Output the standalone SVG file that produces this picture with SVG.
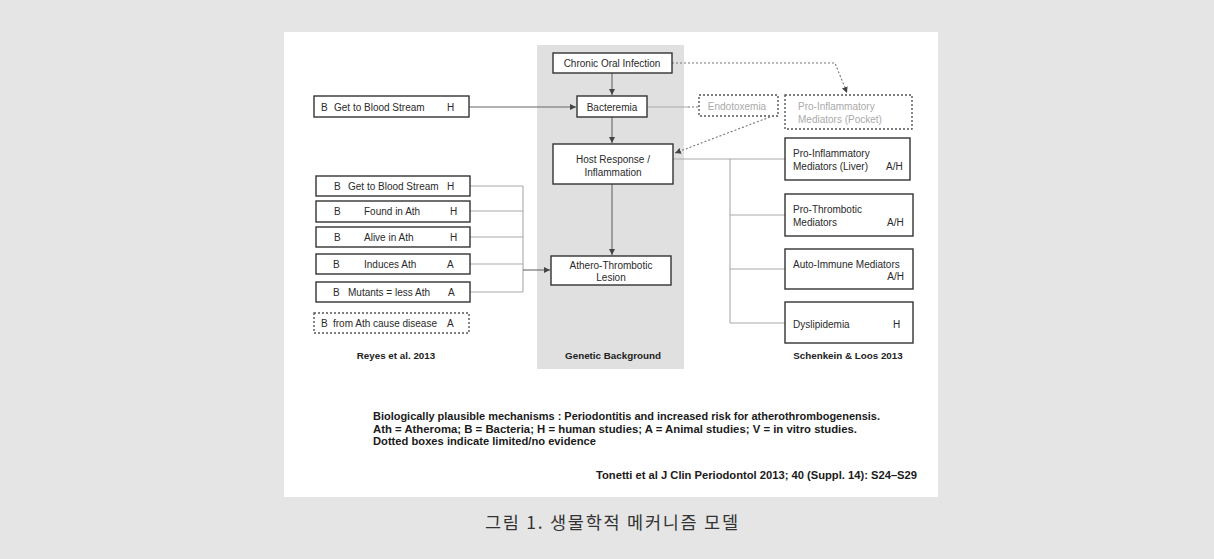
<svg xmlns="http://www.w3.org/2000/svg" width="1214" height="559" viewBox="0 0 1214 559">
<defs>
<style>
.box{fill:#fff;stroke:#333;stroke-width:1.4}
.dbox{fill:#fff;stroke:#555;stroke-width:1.4;stroke-dasharray:2 2}
.t{font-family:"Liberation Sans",Arial,sans-serif;font-size:10px;fill:#2a2a2a}
.tl{font-family:"Liberation Sans",Arial,sans-serif;font-size:10px;fill:#aaa}
.b{font-family:"Liberation Sans",Arial,sans-serif;font-size:9.8px;font-weight:bold;fill:#222}
.n{font-family:"Liberation Sans",Arial,sans-serif;font-size:11.5px;font-weight:bold;fill:#1a1a1a}
.c{fill:none;stroke:#666;stroke-width:1.1}
.cl{fill:none;stroke:#aaa;stroke-width:1.1}
.cd{fill:none;stroke:#777;stroke-width:1.1;stroke-dasharray:2 2}
</style>
<marker id="ah" viewBox="0 0 10 10" refX="10" refY="5" markerWidth="6" markerHeight="6" orient="auto" markerUnits="userSpaceOnUse">
<path d="M0,0 L10,5 L0,10 z" fill="#444"/>
</marker>
</defs>
<rect x="0" y="0" width="1214" height="559" fill="#e5e5e5"/>
<rect x="284" y="32" width="654" height="465" fill="#fff"/>
<rect id="genetic-column" x="537" y="45" width="147" height="324" fill="#e0e0e0"/>

<g id="connectors">
<path class="c" d="M612,73 V95" marker-end="url(#ah)"/>
<path class="c" d="M612,117 V143" marker-end="url(#ah)"/>
<path class="c" d="M612,184 V255" marker-end="url(#ah)"/>
<path class="c" d="M469,107 H576" marker-end="url(#ah)"/>
<path class="cl" d="M647,107 H688"/>
<path class="cd" d="M688,107 H698"/>
<path class="cd" d="M672,63 H835 L847,93" marker-end="url(#ah)"/>
<path class="cd" d="M770,117 L675,153" marker-end="url(#ah)"/>
<path class="cl" d="M470,186 H523 M470,211 H523 M470,237 H523 M470,264 H523 M470,292 H523 M523,186 V292"/>
<path class="c" d="M523,270 H550" marker-end="url(#ah)"/>
<path class="cl" d="M673,159 H785 M730,159 V323 M730,215 H785 M730,269 H785 M730,323 H785"/>
</g>

<g id="chronic-oral-infection">
<rect class="box" x="553" y="53" width="119" height="20"/>
<text class="t" x="612" y="67" text-anchor="middle">Chronic Oral Infection</text>
</g>
<g id="bacteremia">
<rect class="box" x="577" y="96" width="70" height="21"/>
<text class="t" x="612" y="110.5" text-anchor="middle">Bacteremia</text>
</g>
<g id="host-response">
<rect class="box" x="553" y="144" width="120" height="40"/>
<text class="t" x="613" y="163" text-anchor="middle">Host Response /</text>
<text class="t" x="613" y="175.5" text-anchor="middle">Inflammation</text>
</g>
<g id="athero-thrombotic-lesion">
<rect class="box" x="551" y="256" width="120" height="29"/>
<text class="t" x="611" y="269" text-anchor="middle">Athero-Thrombotic</text>
<text class="t" x="611" y="280.5" text-anchor="middle">Lesion</text>
</g>
<g id="endotoxemia">
<rect class="dbox" x="699" y="95" width="79" height="21"/>
<text class="tl" x="737" y="110" text-anchor="middle">Endotoxemia</text>
</g>
<g id="pro-inflammatory-pocket">
<rect class="dbox" x="785" y="95" width="127" height="34"/>
<text class="tl" x="798" y="110">Pro-Inflammatory</text>
<text class="tl" x="798" y="122.5">Mediators (Pocket)</text>
</g>

<g id="left-blood-stream">
<rect class="box" x="314" y="96" width="155" height="21"/>
<text class="t" x="321" y="110.5">B</text>
<text class="t" x="334" y="110.5">Get to Blood Stream</text>
<text class="t" x="447" y="110.5">H</text>
</g>
<g id="reyes-blood-stream">
<rect class="box" x="316" y="176" width="154" height="20"/>
<text class="t" x="334" y="189.5">B</text>
<text class="t" x="348" y="189.5">Get to Blood Stream</text>
<text class="t" x="447" y="189.5">H</text>
</g>
<g id="reyes-found">
<rect class="box" x="316" y="201" width="154" height="21"/>
<text class="t" x="334" y="215">B</text>
<text class="t" x="364" y="215">Found in Ath</text>
<text class="t" x="450" y="215">H</text>
</g>
<g id="reyes-alive">
<rect class="box" x="316" y="227" width="154" height="20"/>
<text class="t" x="334" y="240.5">B</text>
<text class="t" x="364" y="240.5">Alive in Ath</text>
<text class="t" x="450" y="240.5">H</text>
</g>
<g id="reyes-induces">
<rect class="box" x="316" y="254" width="154" height="20"/>
<text class="t" x="333" y="267.5">B</text>
<text class="t" x="364" y="267.5">Induces Ath</text>
<text class="t" x="447" y="267.5">A</text>
</g>
<g id="reyes-mutants">
<rect class="box" x="316" y="282" width="154" height="20"/>
<text class="t" x="333" y="295.5">B</text>
<text class="t" x="348" y="295.5">Mutants = less Ath</text>
<text class="t" x="448" y="295.5">A</text>
</g>
<g id="reyes-from-ath">
<rect class="dbox" x="314" y="313" width="155" height="20"/>
<text class="t" x="321" y="326.5">B</text>
<text class="t" x="333" y="326.5">from Ath cause disease</text>
<text class="t" x="447" y="326.5">A</text>
</g>

<g id="liver-mediators">
<rect class="box" x="785" y="138" width="125" height="42"/>
<text class="t" x="793" y="157">Pro-Inflammatory</text>
<text class="t" x="793" y="170">Mediators (Liver)</text>
<text class="t" x="886" y="170">A/H</text>
</g>
<g id="thrombotic-mediators">
<rect class="box" x="785" y="194" width="128" height="42"/>
<text class="t" x="793" y="213">Pro-Thrombotic</text>
<text class="t" x="793" y="225.5">Mediators</text>
<text class="t" x="887" y="225.5">A/H</text>
</g>
<g id="auto-immune-mediators">
<rect class="box" x="785" y="249" width="128" height="40"/>
<text class="t" x="793" y="267.5">Auto-Immune Mediators</text>
<text class="t" x="904" y="279.5" text-anchor="end">A/H</text>
</g>
<g id="dyslipidemia">
<rect class="box" x="785" y="302" width="128" height="41"/>
<text class="t" x="793" y="327.5">Dyslipidemia</text>
<text class="t" x="893" y="327.5">H</text>
</g>

<text class="b" x="396" y="359" text-anchor="middle">Reyes et al. 2013</text>
<text class="b" x="613" y="359" text-anchor="middle">Genetic Background</text>
<text class="b" x="848" y="359" text-anchor="middle">Schenkein &amp; Loos 2013</text>

<text class="n" x="373" y="420" textLength="507" lengthAdjust="spacingAndGlyphs">Biologically plausible mechanisms : Periodontitis and increased risk for atherothrombogenensis.</text>
<text class="n" x="373" y="432.5" textLength="484" lengthAdjust="spacingAndGlyphs">Ath = Atheroma; B = Bacteria; H = human studies; A = Animal studies; V = in vitro studies.</text>
<text class="n" x="373" y="445" textLength="223" lengthAdjust="spacingAndGlyphs">Dotted boxes indicate limited/no evidence</text>
<text class="n" x="917" y="479" text-anchor="end" textLength="321" lengthAdjust="spacingAndGlyphs">Tonetti et al J Clin Periodontol 2013; 40 (Suppl. 14): S24–S29</text>

<text x="485" y="529" textLength="253" lengthAdjust="spacing" font-family="'Noto Sans CJK KR','Noto Sans',sans-serif" font-size="17.5" fill="#333">그림 1. 생물학적 메커니즘 모델</text>
</svg>
